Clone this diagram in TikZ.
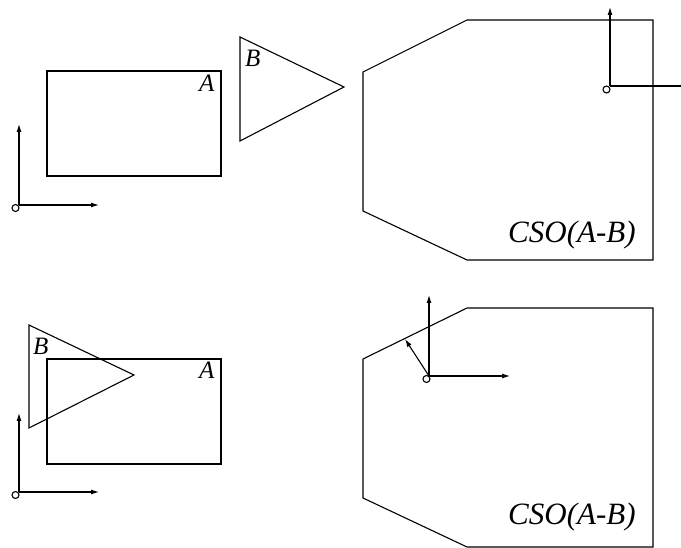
\documentclass[tikz,border=0pt]{standalone}
\usepackage{fontspec}
\newfontfamily\lbfont{Liberation Serif Italic}
\usetikzlibrary{arrows.meta}
\tikzset{
  outline/.style={line width=1.1pt, line join=miter},
  axis/.style={line width=1.1pt, -{Latex[length=8pt,width=5pt]}},
  orig/.style={circle, draw, line width=1.1pt, fill=white, minimum size=7pt, inner sep=0pt},
  biglbl/.style={inner sep=0pt, anchor=base west, font=\lbfont\fontsize{31}{31}\selectfont},
  lbl/.style={inner sep=0pt, anchor=base west, font=\lbfont\fontsize{25}{25}\selectfont},
}
\begin{document}
\begin{tikzpicture}[x=1pt,y=-1pt]
\useasboundingbox (0,0) rectangle (681,548);
% ---------- top panel ----------
\draw[outline] (47,71) rectangle (221,176);
\node[lbl] (lA1) at (199,92) {A};
\draw[outline] (240,37) -- (240,141) -- (344,87) -- cycle;
\node[lbl] (lB1) at (245,67) {B};
\draw[outline] (363,72) -- (467,20) -- (653,20) -- (653,260) -- (467,260) -- (363,211) -- cycle;
\node[biglbl] (lC1) at (508,243) {CSO(A-B)};
% axes top-left
\coordinate (o1) at (19,205);
\coordinate (x1) at (99,205);
\coordinate (y1) at (19,124);
\draw[axis] (o1) -- (x1);
\draw[axis] (o1) -- (y1);
\node[orig] (c1) at (15.5,208) {};
% axes top-right
\coordinate (o2) at (610,86);
\coordinate (x2) at (681,86);
\coordinate (y2) at (610,7);
\draw[outline] (o2) -- (x2);
\draw[axis] (o2) -- (y2);
\node[orig] (c2) at (606.5,89.5) {};
% ---------- bottom panel ----------
\draw[outline] (47,359) rectangle (221,464);
\node[lbl] (lA2) at (199,379) {A};
\draw[outline] (29,325) -- (29,428) -- (134,375) -- cycle;
\node[lbl] (lB2) at (33,355) {B};
\draw[outline] (363,359) -- (467,308) -- (653,308) -- (653,547) -- (467,547) -- (363,498) -- cycle;
\node[biglbl] (lC2) at (508,524) {CSO(A-B)};
% axes bottom-left
\coordinate (o3) at (19,492);
\coordinate (x3) at (99,492);
\coordinate (y3) at (19,413);
\draw[axis] (o3) -- (x3);
\draw[axis] (o3) -- (y3);
\node[orig] (c3) at (15.5,495) {};
% axes bottom-right
\coordinate (o4) at (429,376);
\coordinate (x4) at (510,376);
\coordinate (y4) at (429,295);
\coordinate (n4) at (405,339);
\draw[axis] (o4) -- (x4);
\draw[axis] (o4) -- (y4);
\draw[axis] (o4) -- (n4);
\node[orig] (c4) at (426.5,379) {};
\end{tikzpicture}
\end{document}
